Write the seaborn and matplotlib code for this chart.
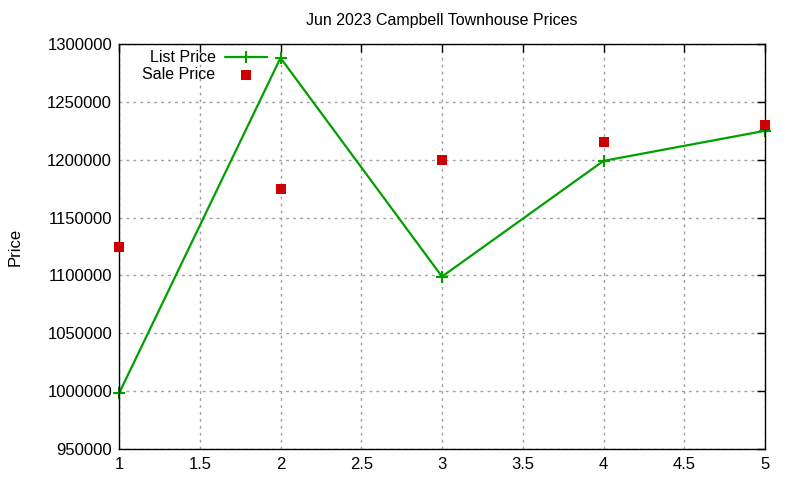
import matplotlib
matplotlib.use("Agg")
import matplotlib.pyplot as plt
import seaborn as sns
import pandas as pd

sns.set_theme(style="white")
plt.rcParams['font.family'] = ['Liberation Sans', 'DejaVu Sans']
plt.rcParams['text.color'] = 'black'
plt.rcParams['axes.labelcolor'] = 'black'

# data
months = [1, 2, 3, 4, 5]
list_price = [998000, 1288000, 1099000, 1199000, 1225000]
sale_price = [1125000, 1175000, 1200000, 1215000, 1230000]

df = pd.DataFrame({"x": months, "List Price": list_price, "Sale Price": sale_price})

fig = plt.figure(figsize=(8, 4.8), dpi=100)
ax = fig.add_axes([0.14875, 0.0646, 0.8075, 0.8437])

sns.lineplot(data=df, x="x", y="List Price", ax=ax, color="#00a000", lw=1.6,
             marker="+", markersize=8, markeredgewidth=1.5, markeredgecolor="#00a000",
             label="List Price")
sns.scatterplot(data=df, x="x", y="Sale Price", ax=ax, color="#cc0000", marker="s",
                s=45, linewidth=0, label="Sale Price", zorder=3)
for ln in ax.lines:
    ln.set_clip_on(False)
for c in ax.collections:
    c.set_clip_on(False)

ax.set_xlim(1, 5)
ax.set_ylim(950000, 1300000)
ax.set_xticks([1, 1.5, 2, 2.5, 3, 3.5, 4, 4.5, 5])
ax.set_xticklabels(["1", "1.5", "2", "2.5", "3", "3.5", "4", "4.5", "5"])
ax.set_yticks(range(950000, 1300001, 50000))
ax.set_yticklabels([str(v) for v in range(950000, 1300001, 50000)])
ax.tick_params(direction="in", length=6, width=1, top=True, right=True,
               labelsize=12, colors="black", pad=5)
ax.tick_params(axis="x", pad=6)
ax.grid(True, color="#a0a0a0", linestyle=(0, (2, 3)), linewidth=1)
for s in ax.spines.values():
    s.set_color("black")
    s.set_linewidth(1)

ax.set_xlabel("")
ax.set_ylabel("Price", fontsize=12, labelpad=18)
ax.set_title("Jun 2023 Campbell Townhouse Prices", fontsize=11.5, pad=14)

leg = ax.legend(loc="upper left", bbox_to_anchor=(0.019, 1.012), markerfirst=False,
                frameon=False, fontsize=11.5, handlelength=2.6, borderaxespad=0.3,
                labelspacing=0.1, handletextpad=0.6)
for t in leg.get_texts():
    t.set_ha("right")

fig.savefig("out.png", dpi=100)
